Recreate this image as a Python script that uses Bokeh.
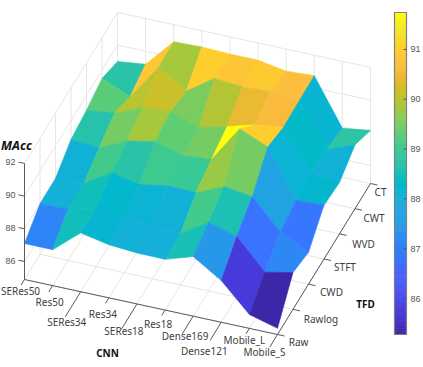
from bokeh.plotting import figure
from bokeh.models import Range1d, ColumnDataSource
from bokeh.core.properties import value
from bokeh.embed import file_html
from bokeh.resources import INLINE

# ---------- data ----------
CNN = ["SERes50", "Res50", "SERes34", "Res34", "SERes18", "Res18",
       "Dense169", "Dense121", "Mobile_L", "Mobile_S"]
TFD = ["Raw", "Rawlog", "CWD", "STFT", "WVD", "CWT", "CT"]
Raw    = [87.1, 87.1, 88.5, 88.15, 88.02, 88.0, 88.55, 87.45, 85.75, 85.28]
Rawlog = [88.0, 88.03, 88.5, 88.22, 88.12, 88.05, 89.1, 88.6, 86.8, 87.15]
CWD    = [88.0, 88.05, 89.1, 88.75, 89.05, 89.0, 89.75, 89.5, 87.7, 86.85]
STFT   = [88.85, 88.7, 89.5, 89.85, 89.35, 89.5, 91.74, 91.0, 88.12, 88.2]
WVD    = [89.1, 89.3, 90.0, 90.15, 89.55, 89.95, 90.45, 90.65, 88.3, 88.05]
CWT    = [89.5, 88.75, 90.9, 89.85, 91.0, 90.85, 90.95, 90.7, 88.15, 88.8]
CT     = [89.0, 89.2, 90.95, 91.0, 90.95, 90.95, 90.65, 90.75, 87.9, 88.15]
Z = [Raw, Rawlog, CWD, STFT, WVD, CWT, CT]
z_ticks = [86, 88, 90, 92]
cb_ticks = [86, 87, 88, 89, 90, 91]

# ---------- view ----------
CLIM = (85.28, 91.74)
Z0, Z1 = 84.9, 92.0
ORIGIN = (24.0, 279.0)
DX = (253.0 / 9, 55.0 / 9)
DY = (93.0 / 6, -151.0 / 6)
DZ = 16.35


def proj(i, j, z=Z0):
    return (ORIGIN[0] + i * DX[0] + j * DY[0],
            ORIGIN[1] + i * DX[1] + j * DY[1] - (z - Z0) * DZ)


PARULA = [
    (.2422, .1504, .6603), (.2504, .1650, .7076), (.2578, .1818, .7511), (.2647, .1978, .7952),
    (.2706, .2147, .8364), (.2751, .2342, .8710), (.2783, .2559, .8991), (.2803, .2782, .9221),
    (.2813, .3006, .9414), (.2810, .3228, .9579), (.2795, .3447, .9717), (.2760, .3667, .9829),
    (.2699, .3892, .9906), (.2602, .4123, .9952), (.2440, .4358, .9988), (.2206, .4603, .9973),
    (.1963, .4847, .9892), (.1834, .5074, .9798), (.1786, .5289, .9682), (.1764, .5499, .9520),
    (.1687, .5703, .9359), (.1540, .5902, .9218), (.1460, .6091, .9079), (.1380, .6276, .8973),
    (.1248, .6459, .8883), (.1113, .6635, .8763), (.0952, .6798, .8598), (.0689, .6948, .8394),
    (.0297, .7082, .8163), (.0036, .7203, .7917), (.0067, .7312, .7660), (.0433, .7411, .7394),
    (.0964, .7500, .7120), (.1408, .7584, .6842), (.1717, .7670, .6554), (.1938, .7758, .6251),
    (.2161, .7843, .5923), (.2470, .7918, .5567), (.2906, .7973, .5188), (.3406, .8008, .4789),
    (.3909, .8029, .4354), (.4456, .8024, .3909), (.5044, .7993, .3480), (.5616, .7942, .3045),
    (.6174, .7876, .2612), (.6720, .7793, .2227), (.7242, .7698, .1910), (.7738, .7598, .1646),
    (.8203, .7498, .1535), (.8634, .7406, .1596), (.9035, .7330, .1774), (.9393, .7288, .2100),
    (.9728, .7298, .2394), (.9956, .7434, .2371), (.9970, .7659, .2199), (.9952, .7861, .1991),
    (.9892, .8122, .1769), (.9786, .8368, .1474), (.9676, .8620, .1260), (.9610, .8890, .1537),
    (.9597, .9135, .1423), (.9628, .9373, .1265), (.9691, .9606, .1064), (1.0, 1.0, .05),
]


def cmap(v):
    t = max(0.0, min(1.0, (v - CLIM[0]) / (CLIM[1] - CLIM[0]))) * (len(PARULA) - 1)
    k = min(int(t), len(PARULA) - 2)
    f = t - k
    a, b = PARULA[k], PARULA[k + 1]
    return "#%02x%02x%02x" % tuple(int(round(255 * (a[c] + (b[c] - a[c]) * f))) for c in range(3))


W, H = 423, 367
p = figure(width=W, height=H, output_backend="svg", toolbar_location=None,
           x_range=Range1d(0, W), y_range=Range1d(H, 0),
           min_border=0, outline_line_color=None, background_fill_color="white")
p.axis.visible = False
p.grid.visible = False

NI, NJ = len(CNN) - 1, len(TFD) - 1
GRID = "#e6e6e6"
AX = "#5a5a5a"
TICKF = "Noto Sans"
NUMF = "Liberation Sans"


def seg(a, b, color, w=1.0):
    p.line([a[0], b[0]], [a[1], b[1]], line_color=color, line_width=w)


# walls and floor
for i in range(NI + 1):
    seg(proj(i, 0), proj(i, NJ), GRID)
    seg(proj(i, NJ), proj(i, NJ, Z1), GRID)
for j in range(NJ + 1):
    seg(proj(0, j), proj(NI, j), GRID)
    seg(proj(0, j), proj(0, j, Z1), GRID)
for z in z_ticks:
    seg(proj(0, 0, z), proj(0, NJ, z), GRID)
    seg(proj(0, NJ, z), proj(NI, NJ, z), GRID)

# surface, far faces first
faces = sorted(((i, j) for i in range(NI) for j in range(NJ)),
               key=lambda f: f[0] * DX[1] + f[1] * DY[1])
xs, ys, cs = [], [], []
for i, j in faces:
    pts = [proj(a, b, Z[b][a]) for a, b in ((i, j), (i + 1, j), (i + 1, j + 1), (i, j + 1))]
    xs.append([q[0] for q in pts])
    ys.append([q[1] for q in pts])
    cs.append(cmap(Z[j][i + 1]))
p.patches("xs", "ys", source=ColumnDataSource(dict(xs=xs, ys=ys, c=cs)),
          fill_color="c", line_color="c", line_width=0.6)

# axes
seg(proj(0, 0), proj(0, 0, Z1), AX)
seg(proj(0, 0), proj(NI, 0), AX)
seg(proj(NI, 0), proj(NI, NJ), AX)


def label(x, y, s, size="10px", font=TICKF, color="#404040", style="normal", align="center"):
    p.text([x], [y], text=[s], text_font=value(font), text_font_size=value(size),
           text_color=color, text_font_style=style, text_align=align, text_baseline="middle")


for z in z_ticks:
    a = proj(0, 0, z)
    seg(a, (a[0] - 6, a[1] - 1.3), AX)
    label(a[0] - 9, a[1] - 1, str(z), size="9px", font=NUMF, color="#555555", align="right")

# layout of the category labels: (tick reach, label x offset, label y offset)
CNN_LAYOUT = [(0.22, -4, 11), (0.25, -3, 16), (1.0, -14, 30), (0.22, -6, 16), (1.0, -13, 27),
              (0.22, -7, 14), (0.72, -8, 20), (0.72, -17, 29), (0.22, -5, 12), (0.5, -13, 17)]
TFD_LAYOUT = [(21, 7), (28, 10), (23, 8), (21, 8), (24, 10), (19, 9), (10, 8)]
for i, name in enumerate(CNN):
    a = proj(i, 0)
    reach, ox, oy = CNN_LAYOUT[i]
    seg(a, (a[0] - reach * DY[0], a[1] - reach * DY[1]), AX)
    label(a[0] + ox, a[1] + oy, name)
for j, name in enumerate(TFD):
    a = proj(NI, j)
    ox, oy = TFD_LAYOUT[j]
    seg(a, (a[0] + 0.25 * DX[0], a[1] + 0.25 * DX[1]), AX)
    label(a[0] + ox, a[1] + oy, name)

label(16, 145, "MAcc", size="12.5px", font="Open Sans", color="#111111", style="bold italic")
label(107, 352, "CNN", size="10px", color="#111111", style="bold")
label(365, 303, "TFD", size="10px", color="#111111", style="bold")

# colour bar
CBX0, CBX1 = 394, 406
CBY0, CBY1 = 334.0, 12.0
N = 160
steps = [CLIM[0] + (CLIM[1] - CLIM[0]) * k / N for k in range(N + 1)]
sy = lambda v: CBY0 + (v - CLIM[0]) / (CLIM[1] - CLIM[0]) * (CBY1 - CBY0)
cb_c = [cmap((steps[k] + steps[k + 1]) / 2) for k in range(N)]
p.quad(left=[CBX0] * N, right=[CBX1] * N,
       bottom=[sy(v) for v in steps[:-1]], top=[sy(v) for v in steps[1:]],
       fill_color=cb_c, line_color=cb_c, line_width=0.6)
p.line([CBX0, CBX1, CBX1, CBX0, CBX0], [CBY0, CBY0, CBY1, CBY1, CBY0],
       line_color="#808080", line_width=1.2)
for v in cb_ticks:
    seg((CBX1 - 3, sy(v)), (CBX1, sy(v)), "#555555")
    label(410, sy(v), str(v), size="9px", font=NUMF, color="#555555", align="left")

open("out.html", "w").write(file_html(p, INLINE))
